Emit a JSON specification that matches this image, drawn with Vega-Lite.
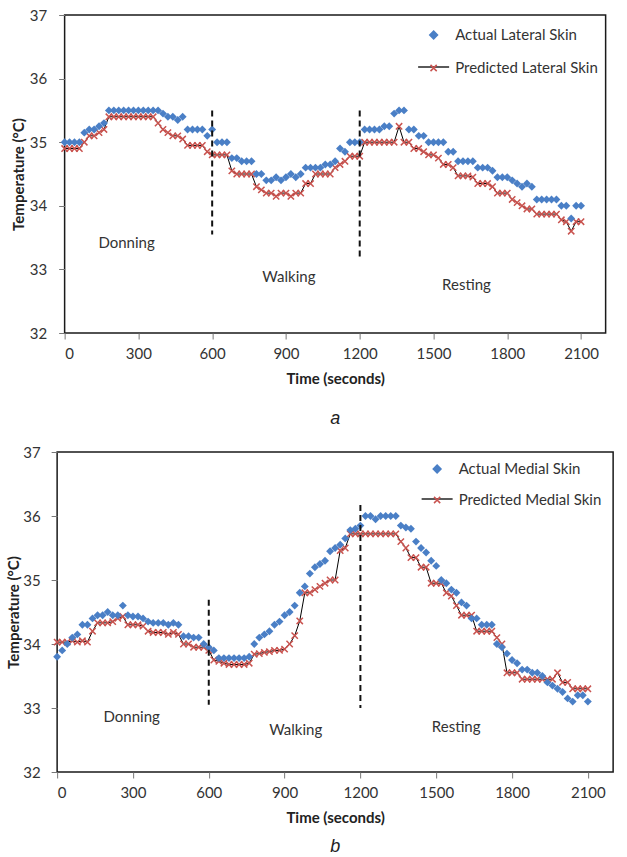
{
  "$schema": "https://vega.github.io/schema/vega-lite/v6.json",
  "padding": {"left": 5, "top": 7, "right": 5, "bottom": 0},
  "spacing": 15,
  "center": true,
  "resolve": {
    "scale": {"color": "independent", "shape": "independent", "stroke": "independent"},
    "legend": {"color": "independent", "shape": "independent", "stroke": "independent"}
  },
  "config": {
    "font": "Lato",
    "view": {"stroke": "#1a1a1a", "strokeWidth": 1.5},
    "axis": {
      "grid": false, "domain": false,
      "labelFont": "Lato", "labelFontSize": 15, "labelColor": "#333",
      "titleFont": "Lato", "titleFontSize": 15, "titleFontWeight": "bold", "titleColor": "#222",
      "tickColor": "#777", "tickSize": 6
    }
  },
  "datasets": {
    "lateral": [
      {"t":0,"actual":35.0,"predicted":34.9},{"t":20,"actual":35.0,"predicted":34.9},{"t":40,"actual":35.0,"predicted":34.9},{"t":60,"actual":35.0,"predicted":34.9},
      {"t":80,"actual":35.15,"predicted":35.0},{"t":100,"actual":35.2,"predicted":35.1},{"t":120,"actual":35.2,"predicted":35.1},{"t":140,"actual":35.25,"predicted":35.15},
      {"t":160,"actual":35.3,"predicted":35.2},{"t":180,"actual":35.5,"predicted":35.4},{"t":200,"actual":35.5,"predicted":35.4},{"t":220,"actual":35.5,"predicted":35.4},
      {"t":240,"actual":35.5,"predicted":35.4},{"t":260,"actual":35.5,"predicted":35.4},{"t":280,"actual":35.5,"predicted":35.4},{"t":300,"actual":35.5,"predicted":35.4},
      {"t":320,"actual":35.5,"predicted":35.4},{"t":340,"actual":35.5,"predicted":35.4},{"t":360,"actual":35.5,"predicted":35.4},{"t":380,"actual":35.5,"predicted":35.3},
      {"t":400,"actual":35.45,"predicted":35.2},{"t":420,"actual":35.4,"predicted":35.15},{"t":440,"actual":35.4,"predicted":35.1},{"t":460,"actual":35.35,"predicted":35.1},
      {"t":480,"actual":35.4,"predicted":35.05},{"t":500,"actual":35.2,"predicted":34.95},{"t":520,"actual":35.2,"predicted":34.95},{"t":540,"actual":35.2,"predicted":34.95},
      {"t":560,"actual":35.2,"predicted":34.95},{"t":580,"actual":35.1,"predicted":34.85},{"t":600,"actual":35.2,"predicted":34.8},{"t":620,"actual":35.0,"predicted":34.8},
      {"t":640,"actual":35.0,"predicted":34.8},{"t":660,"actual":35.0,"predicted":34.8},{"t":680,"actual":34.75,"predicted":34.55},{"t":700,"actual":34.75,"predicted":34.5},
      {"t":720,"actual":34.7,"predicted":34.5},{"t":740,"actual":34.7,"predicted":34.5},{"t":760,"actual":34.7,"predicted":34.5},{"t":780,"actual":34.5,"predicted":34.3},
      {"t":800,"actual":34.5,"predicted":34.25},{"t":820,"actual":34.4,"predicted":34.2},{"t":840,"actual":34.4,"predicted":34.2},{"t":860,"actual":34.45,"predicted":34.15},
      {"t":880,"actual":34.4,"predicted":34.2},{"t":900,"actual":34.45,"predicted":34.2},{"t":920,"actual":34.5,"predicted":34.15},{"t":940,"actual":34.45,"predicted":34.2},
      {"t":960,"actual":34.5,"predicted":34.2},{"t":980,"actual":34.6,"predicted":34.35},{"t":1000,"actual":34.6,"predicted":34.35},{"t":1020,"actual":34.6,"predicted":34.5},
      {"t":1040,"actual":34.6,"predicted":34.5},{"t":1060,"actual":34.65,"predicted":34.5},{"t":1080,"actual":34.65,"predicted":34.5},{"t":1100,"actual":34.7,"predicted":34.6},
      {"t":1120,"actual":34.9,"predicted":34.65},{"t":1140,"actual":34.85,"predicted":34.7},{"t":1160,"actual":35.0,"predicted":34.78},{"t":1180,"actual":35.0,"predicted":34.78},
      {"t":1200,"actual":35.0,"predicted":34.78},{"t":1220,"actual":35.2,"predicted":35.0},{"t":1240,"actual":35.2,"predicted":35.0},{"t":1260,"actual":35.2,"predicted":35.0},
      {"t":1280,"actual":35.2,"predicted":35.0},{"t":1300,"actual":35.25,"predicted":35.0},{"t":1320,"actual":35.25,"predicted":35.0},{"t":1340,"actual":35.45,"predicted":35.0},
      {"t":1360,"actual":35.5,"predicted":35.25},{"t":1380,"actual":35.5,"predicted":35.0},{"t":1400,"actual":35.2,"predicted":35.0},{"t":1420,"actual":35.2,"predicted":34.9},
      {"t":1440,"actual":35.1,"predicted":34.9},{"t":1460,"actual":35.1,"predicted":34.85},{"t":1480,"actual":35.0,"predicted":34.8},{"t":1500,"actual":35.0,"predicted":34.8},
      {"t":1520,"actual":35.0,"predicted":34.75},{"t":1540,"actual":35.0,"predicted":34.65},{"t":1560,"actual":34.85,"predicted":34.65},{"t":1580,"actual":34.85,"predicted":34.6},
      {"t":1600,"actual":34.7,"predicted":34.47},{"t":1620,"actual":34.7,"predicted":34.47},{"t":1640,"actual":34.7,"predicted":34.47},{"t":1660,"actual":34.7,"predicted":34.45},
      {"t":1680,"actual":34.6,"predicted":34.35},{"t":1700,"actual":34.6,"predicted":34.35},{"t":1720,"actual":34.6,"predicted":34.35},{"t":1740,"actual":34.55,"predicted":34.3},
      {"t":1760,"actual":34.45,"predicted":34.2},{"t":1780,"actual":34.45,"predicted":34.2},{"t":1800,"actual":34.45,"predicted":34.2},{"t":1820,"actual":34.4,"predicted":34.1},
      {"t":1840,"actual":34.35,"predicted":34.05},{"t":1860,"actual":34.3,"predicted":34.0},{"t":1880,"actual":34.35,"predicted":33.95},{"t":1900,"actual":34.3,"predicted":33.95},
      {"t":1920,"actual":34.1,"predicted":33.87},{"t":1940,"actual":34.1,"predicted":33.87},{"t":1960,"actual":34.1,"predicted":33.87},{"t":1980,"actual":34.1,"predicted":33.87},
      {"t":2000,"actual":34.1,"predicted":33.87},{"t":2020,"actual":34.0,"predicted":33.78},{"t":2040,"actual":34.0,"predicted":33.75},{"t":2060,"actual":33.8,"predicted":33.6},
      {"t":2080,"actual":34.0,"predicted":33.75},{"t":2100,"actual":34.0,"predicted":33.75}
    ],
    "medial": [
      {"t":0,"actual":33.8,"predicted":34.03},{"t":20,"actual":33.9,"predicted":34.03},{"t":40,"actual":34.0,"predicted":34.03},{"t":60,"actual":34.1,"predicted":34.05},
      {"t":80,"actual":34.15,"predicted":34.03},{"t":100,"actual":34.3,"predicted":34.05},{"t":120,"actual":34.3,"predicted":34.03},{"t":140,"actual":34.4,"predicted":34.2},
      {"t":160,"actual":34.45,"predicted":34.33},{"t":180,"actual":34.45,"predicted":34.33},{"t":200,"actual":34.5,"predicted":34.33},{"t":220,"actual":34.45,"predicted":34.35},
      {"t":240,"actual":34.45,"predicted":34.4},{"t":260,"actual":34.6,"predicted":34.43},{"t":280,"actual":34.45,"predicted":34.3},{"t":300,"actual":34.43,"predicted":34.3},
      {"t":320,"actual":34.43,"predicted":34.3},{"t":340,"actual":34.4,"predicted":34.28},{"t":360,"actual":34.35,"predicted":34.2},{"t":380,"actual":34.33,"predicted":34.18},
      {"t":400,"actual":34.33,"predicted":34.18},{"t":420,"actual":34.33,"predicted":34.18},{"t":440,"actual":34.3,"predicted":34.15},{"t":460,"actual":34.33,"predicted":34.18},
      {"t":480,"actual":34.3,"predicted":34.15},{"t":500,"actual":34.12,"predicted":34.0},{"t":520,"actual":34.12,"predicted":34.0},{"t":540,"actual":34.1,"predicted":33.95},
      {"t":560,"actual":34.1,"predicted":33.95},{"t":580,"actual":34.0,"predicted":33.95},{"t":600,"actual":33.95,"predicted":33.9},{"t":620,"actual":33.9,"predicted":33.75},
      {"t":640,"actual":33.78,"predicted":33.73},{"t":660,"actual":33.78,"predicted":33.7},{"t":680,"actual":33.78,"predicted":33.68},{"t":700,"actual":33.78,"predicted":33.68},
      {"t":720,"actual":33.78,"predicted":33.68},{"t":740,"actual":33.78,"predicted":33.68},{"t":760,"actual":33.8,"predicted":33.7},{"t":780,"actual":34.0,"predicted":33.84},
      {"t":800,"actual":34.1,"predicted":33.85},{"t":820,"actual":34.15,"predicted":33.87},{"t":840,"actual":34.2,"predicted":33.88},{"t":860,"actual":34.3,"predicted":33.9},
      {"t":880,"actual":34.35,"predicted":33.9},{"t":900,"actual":34.45,"predicted":33.92},{"t":920,"actual":34.5,"predicted":34.0},{"t":940,"actual":34.6,"predicted":34.13},
      {"t":960,"actual":34.8,"predicted":34.36},{"t":980,"actual":34.9,"predicted":34.8},{"t":1000,"actual":35.1,"predicted":34.8},{"t":1020,"actual":35.2,"predicted":34.85},
      {"t":1040,"actual":35.25,"predicted":34.9},{"t":1060,"actual":35.3,"predicted":34.95},{"t":1080,"actual":35.45,"predicted":35.0},{"t":1100,"actual":35.5,"predicted":35.0},
      {"t":1120,"actual":35.55,"predicted":35.46},{"t":1140,"actual":35.65,"predicted":35.5},{"t":1160,"actual":35.78,"predicted":35.72},{"t":1180,"actual":35.8,"predicted":35.72},
      {"t":1200,"actual":35.85,"predicted":35.72},{"t":1220,"actual":36.0,"predicted":35.72},{"t":1240,"actual":36.0,"predicted":35.72},{"t":1260,"actual":35.95,"predicted":35.72},
      {"t":1280,"actual":36.0,"predicted":35.72},{"t":1300,"actual":36.0,"predicted":35.72},{"t":1320,"actual":36.0,"predicted":35.72},{"t":1340,"actual":36.0,"predicted":35.72},
      {"t":1360,"actual":35.85,"predicted":35.6},{"t":1380,"actual":35.82,"predicted":35.5},{"t":1400,"actual":35.8,"predicted":35.35},{"t":1420,"actual":35.6,"predicted":35.35},
      {"t":1440,"actual":35.5,"predicted":35.2},{"t":1460,"actual":35.43,"predicted":35.2},{"t":1480,"actual":35.3,"predicted":34.95},{"t":1500,"actual":35.22,"predicted":34.95},
      {"t":1520,"actual":35.0,"predicted":34.95},{"t":1540,"actual":34.95,"predicted":34.8},{"t":1560,"actual":34.85,"predicted":34.75},{"t":1580,"actual":34.8,"predicted":34.6},
      {"t":1600,"actual":34.65,"predicted":34.45},{"t":1620,"actual":34.6,"predicted":34.45},{"t":1640,"actual":34.4,"predicted":34.45},{"t":1660,"actual":34.4,"predicted":34.2},
      {"t":1680,"actual":34.3,"predicted":34.2},{"t":1700,"actual":34.3,"predicted":34.2},{"t":1720,"actual":34.3,"predicted":34.2},{"t":1740,"actual":34.0,"predicted":34.1},
      {"t":1760,"actual":33.95,"predicted":34.0},{"t":1780,"actual":33.85,"predicted":33.55},{"t":1800,"actual":33.75,"predicted":33.55},{"t":1820,"actual":33.7,"predicted":33.55},
      {"t":1840,"actual":33.6,"predicted":33.45},{"t":1860,"actual":33.6,"predicted":33.45},{"t":1880,"actual":33.55,"predicted":33.45},{"t":1900,"actual":33.55,"predicted":33.45},
      {"t":1920,"actual":33.5,"predicted":33.45},{"t":1940,"actual":33.4,"predicted":33.45},{"t":1960,"actual":33.35,"predicted":33.45},{"t":1980,"actual":33.3,"predicted":33.55},
      {"t":2000,"actual":33.25,"predicted":33.4},{"t":2020,"actual":33.15,"predicted":33.4},{"t":2040,"actual":33.1,"predicted":33.3},{"t":2060,"actual":33.2,"predicted":33.3},
      {"t":2080,"actual":33.2,"predicted":33.3},{"t":2100,"actual":33.1,"predicted":33.3}
    ],
    "phasesA": [
      {"t":252,"temp":33.42,"label":"Donning"},
      {"t":912,"temp":32.88,"label":"Walking"},
      {"t":1634,"temp":32.75,"label":"Resting"}
    ],
    "phasesB": [
      {"t":295,"temp":32.86,"label":"Donning"},
      {"t":944,"temp":32.66,"label":"Walking"},
      {"t":1579,"temp":32.7,"label":"Resting"}
    ],
    "rulesA": [
      {"t":600,"top":35.5,"bottom":33.55},
      {"t":1200,"top":35.5,"bottom":33.2}
    ],
    "rulesB": [
      {"t":600,"top":34.69,"bottom":33.05},
      {"t":1200,"top":36.17,"bottom":33.0}
    ]
  },
  "vconcat": [
    {
      "width": 541,
      "height": 318,
      "title": {"text": "a", "orient": "bottom", "anchor": "middle", "font": "Liberation Sans", "fontStyle": "italic", "fontWeight": "normal", "fontSize": 18, "offset": 24, "color": "#222"},
      "layer": [
        {
          "data": {"name": "lateral"},
          "mark": {"type": "line", "strokeWidth": 1},
          "encoding": {
            "x": {"field": "t", "type": "quantitative", "scale": {"domain": [0, 2100]},
                  "axis": {"values": [0, 300, 600, 900, 1200, 1500, 1800, 2100], "format": "d", "title": "Time (seconds)", "labelPadding": 7, "titlePadding": 10}},
            "y": {"field": "predicted", "type": "quantitative", "scale": {"domain": [32, 37]},
                  "axis": {"values": [32, 33, 34, 35, 36, 37], "format": "d", "title": "Temperature (°C)", "labelPadding": 12, "titlePadding": 3}},
            "stroke": {"datum": "Predicted Lateral Skin", "scale": {"domain": ["Predicted Lateral Skin"], "range": ["#000000"]},
                       "legend": {"orient": "none", "legendX": 352.5, "legendY": 35.5, "title": null, "padding": 0, "symbolType": "stroke", "symbolSize": 961, "symbolStrokeWidth": 1.3, "labelExpr": "''"}}
          }
        },
        {
          "data": {"name": "lateral"},
          "mark": {"type": "point", "filled": false, "strokeWidth": 1.5, "size": 1000, "opacity": 1},
          "encoding": {
            "x": {"field": "t", "type": "quantitative"},
            "y": {"field": "predicted", "type": "quantitative"},
            "color": {"datum": "Predicted Lateral Skin", "scale": {"domain": ["Actual Lateral Skin", "Predicted Lateral Skin"], "range": ["#4a7fc6", "#c9534f"]},
                      "legend": {"orient": "none", "legendX": 352.5, "legendY": 3.5, "title": null, "padding": 0, "rowPadding": 8, "symbolSize": 961, "labelOffset": 5, "labelFont": "Lato", "labelFontSize": 15, "labelColor": "#333", "symbolOpacity": 1,
                                 "encode": {"symbols": {"update": {"fill": {"signal": "datum.value === 'Actual Lateral Skin' ? '#4a7fc6' : 'transparent'"}, "stroke": {"signal": "datum.value === 'Actual Lateral Skin' ? '#4a7fc6' : '#c9534f'"}, "strokeWidth": {"value": 1.3}}}}}},
            "shape": {"datum": "Predicted Lateral Skin", "scale": {"domain": ["Actual Lateral Skin", "Predicted Lateral Skin"], "range": ["M0,-0.25L0.25,0L0,0.25L-0.25,0Z", "M-0.2,-0.2L0.2,0.2M-0.2,0.2L0.2,-0.2"]},
                      "legend": {"orient": "none", "legendX": 352.5, "legendY": 3.5, "title": null, "padding": 0, "rowPadding": 8, "symbolSize": 961, "labelOffset": 5, "labelFont": "Lato", "labelFontSize": 15, "labelColor": "#333", "symbolOpacity": 1}}
          }
        },
        {
          "data": {"name": "lateral"},
          "mark": {"type": "point", "filled": true, "size": 1000, "opacity": 1},
          "encoding": {
            "x": {"field": "t", "type": "quantitative"},
            "y": {"field": "actual", "type": "quantitative"},
            "color": {"datum": "Actual Lateral Skin"},
            "shape": {"datum": "Actual Lateral Skin"}
          }
        },
        {
          "data": {"name": "rulesA"},
          "mark": {"type": "rule", "color": "#111", "strokeWidth": 2, "strokeDash": [6, 4]},
          "encoding": {
            "x": {"field": "t", "type": "quantitative"},
            "y": {"field": "top", "type": "quantitative"},
            "y2": {"field": "bottom"}
          }
        },
        {
          "data": {"name": "phasesA"},
          "mark": {"type": "text", "font": "Lato", "fontSize": 15, "color": "#333"},
          "encoding": {
            "x": {"field": "t", "type": "quantitative"},
            "y": {"field": "temp", "type": "quantitative"},
            "text": {"field": "label"}
          }
        }
      ]
    },
    {
      "width": 556,
      "height": 320,
      "title": {"text": "b", "orient": "bottom", "anchor": "middle", "font": "Liberation Sans", "fontStyle": "italic", "fontWeight": "normal", "fontSize": 18, "offset": 13, "color": "#222"},
      "layer": [
        {
          "data": {"name": "medial"},
          "mark": {"type": "line", "strokeWidth": 1},
          "encoding": {
            "x": {"field": "t", "type": "quantitative", "scale": {"domain": [0, 2100]},
                  "axis": {"values": [0, 300, 600, 900, 1200, 1500, 1800, 2100], "format": "d", "title": "Time (seconds)", "labelPadding": 7, "titlePadding": 10}},
            "y": {"field": "predicted", "type": "quantitative", "scale": {"domain": [32, 37]},
                  "axis": {"values": [32, 33, 34, 35, 36, 37], "format": "d", "title": "Temperature (°C)", "labelPadding": 11, "titlePadding": 1}},
            "stroke": {"datum": "Predicted Medial Skin", "scale": {"domain": ["Predicted Medial Skin"], "range": ["#000000"]},
                       "legend": {"orient": "none", "legendX": 363.5, "legendY": 30.5, "title": null, "padding": 0, "symbolType": "stroke", "symbolSize": 961, "symbolStrokeWidth": 1.3, "labelExpr": "''"}}
          }
        },
        {
          "data": {"name": "medial"},
          "mark": {"type": "point", "filled": false, "strokeWidth": 1.5, "size": 1000, "opacity": 1},
          "encoding": {
            "x": {"field": "t", "type": "quantitative"},
            "y": {"field": "predicted", "type": "quantitative"},
            "color": {"datum": "Predicted Medial Skin", "scale": {"domain": ["Actual Medial Skin", "Predicted Medial Skin"], "range": ["#4a7fc6", "#c9534f"]},
                      "legend": {"orient": "none", "legendX": 363.5, "legendY": 0.5, "title": null, "padding": 0, "rowPadding": 6, "symbolSize": 961, "labelOffset": 5, "labelFont": "Lato", "labelFontSize": 15, "labelColor": "#333", "symbolOpacity": 1,
                                 "encode": {"symbols": {"update": {"fill": {"signal": "datum.value === 'Actual Medial Skin' ? '#4a7fc6' : 'transparent'"}, "stroke": {"signal": "datum.value === 'Actual Medial Skin' ? '#4a7fc6' : '#c9534f'"}, "strokeWidth": {"value": 1.3}}}}}},
            "shape": {"datum": "Predicted Medial Skin", "scale": {"domain": ["Actual Medial Skin", "Predicted Medial Skin"], "range": ["M0,-0.25L0.25,0L0,0.25L-0.25,0Z", "M-0.2,-0.2L0.2,0.2M-0.2,0.2L0.2,-0.2"]},
                      "legend": {"orient": "none", "legendX": 363.5, "legendY": 0.5, "title": null, "padding": 0, "rowPadding": 6, "symbolSize": 961, "labelOffset": 5, "labelFont": "Lato", "labelFontSize": 15, "labelColor": "#333", "symbolOpacity": 1}}
          }
        },
        {
          "data": {"name": "medial"},
          "mark": {"type": "point", "filled": true, "size": 1000, "opacity": 1},
          "encoding": {
            "x": {"field": "t", "type": "quantitative"},
            "y": {"field": "actual", "type": "quantitative"},
            "color": {"datum": "Actual Medial Skin"},
            "shape": {"datum": "Actual Medial Skin"}
          }
        },
        {
          "data": {"name": "rulesB"},
          "mark": {"type": "rule", "color": "#111", "strokeWidth": 2, "strokeDash": [6, 4]},
          "encoding": {
            "x": {"field": "t", "type": "quantitative"},
            "y": {"field": "top", "type": "quantitative"},
            "y2": {"field": "bottom"}
          }
        },
        {
          "data": {"name": "phasesB"},
          "mark": {"type": "text", "font": "Lato", "fontSize": 15, "color": "#333"},
          "encoding": {
            "x": {"field": "t", "type": "quantitative"},
            "y": {"field": "temp", "type": "quantitative"},
            "text": {"field": "label"}
          }
        }
      ]
    }
  ]
}
